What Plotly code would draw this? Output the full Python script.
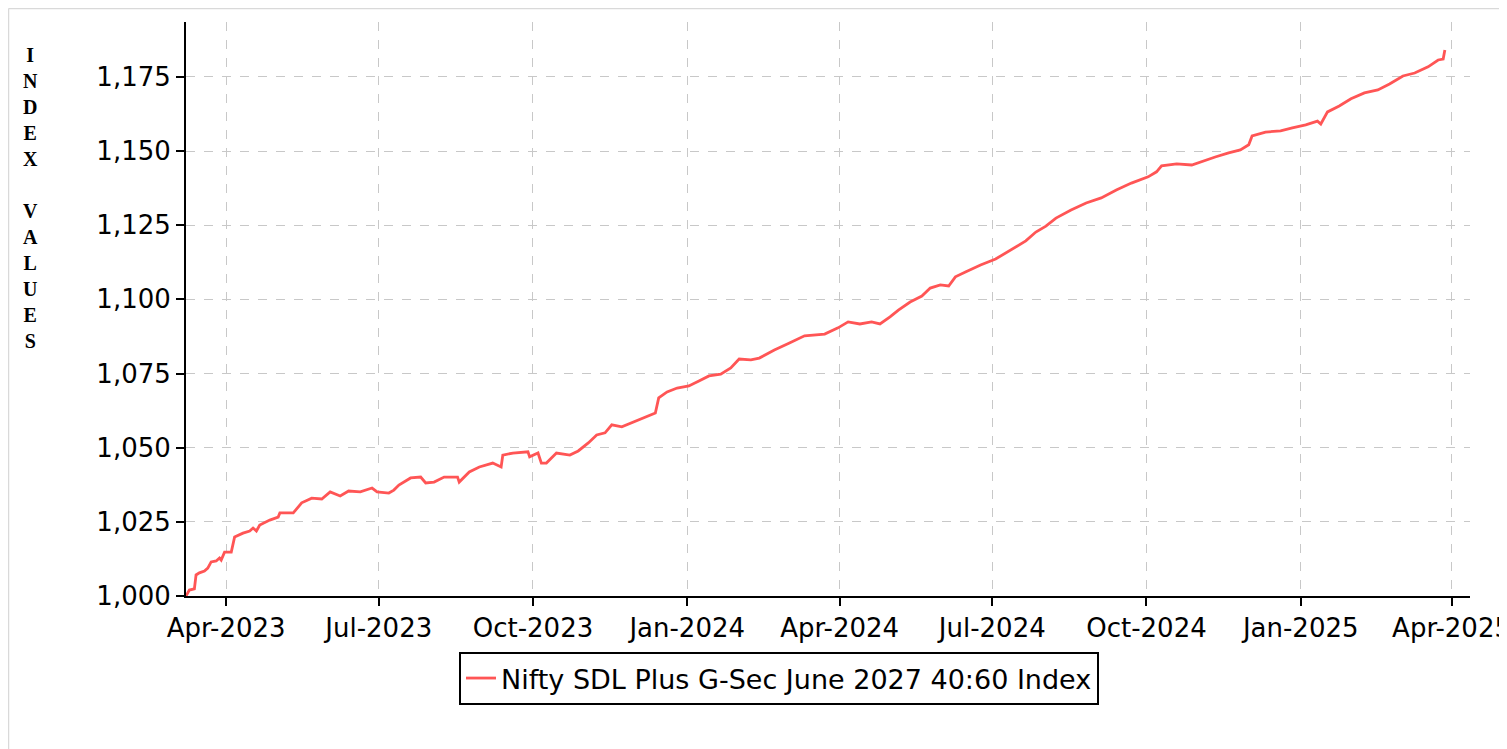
import plotly.graph_objects as go

series_name = "Nifty SDL Plus G-Sec June 2027 40:60 Index"

dates = [
    "2023-03-08", "2023-03-10", "2023-03-13", "2023-03-14", "2023-03-16", "2023-03-19",
    "2023-03-21", "2023-03-23", "2023-03-26", "2023-03-28", "2023-03-29", "2023-03-31",
    "2023-04-04", "2023-04-06", "2023-04-11", "2023-04-15", "2023-04-17", "2023-04-19",
    "2023-04-21", "2023-04-27", "2023-05-02", "2023-05-03", "2023-05-11", "2023-05-16",
    "2023-05-22", "2023-05-28", "2023-06-02", "2023-06-08", "2023-06-13", "2023-06-20",
    "2023-06-27", "2023-06-30", "2023-07-07", "2023-07-10", "2023-07-13", "2023-07-20",
    "2023-07-26", "2023-07-29", "2023-08-03", "2023-08-09", "2023-08-17", "2023-08-18",
    "2023-08-24", "2023-08-30", "2023-09-07", "2023-09-12", "2023-09-13", "2023-09-19",
    "2023-09-28", "2023-09-29", "2023-10-04", "2023-10-06", "2023-10-09", "2023-10-15",
    "2023-10-23", "2023-10-28", "2023-11-03", "2023-11-08", "2023-11-13", "2023-11-17",
    "2023-11-23", "2023-11-26", "2023-12-03", "2023-12-09", "2023-12-13", "2023-12-15",
    "2023-12-20", "2023-12-26", "2024-01-02", "2024-01-08", "2024-01-14", "2024-01-21",
    "2024-01-27", "2024-02-01", "2024-02-08", "2024-02-13", "2024-02-22", "2024-03-02",
    "2024-03-11", "2024-03-23", "2024-03-31", "2024-04-06", "2024-04-13", "2024-04-20",
    "2024-04-25", "2024-05-01", "2024-05-06", "2024-05-13", "2024-05-20", "2024-05-25",
    "2024-05-31", "2024-06-05", "2024-06-09", "2024-06-15", "2024-06-24", "2024-07-03",
    "2024-07-12", "2024-07-21", "2024-07-27", "2024-08-02", "2024-08-08", "2024-08-17",
    "2024-08-26", "2024-09-04", "2024-09-13", "2024-09-22", "2024-10-02", "2024-10-07",
    "2024-10-10", "2024-10-19", "2024-10-28", "2024-11-02", "2024-11-11", "2024-11-19",
    "2024-11-26", "2024-12-01", "2024-12-03", "2024-12-11", "2024-12-20", "2024-12-27",
    "2025-01-04", "2025-01-11", "2025-01-13", "2025-01-17", "2025-01-24", "2025-01-31",
    "2025-02-08", "2025-02-16", "2025-02-23", "2025-03-03", "2025-03-10", "2025-03-18",
    "2025-03-24", "2025-03-27", "2025-03-28",
]

values = [
    1000.0, 1002.0, 1002.4, 1007.1, 1007.8, 1008.4,
    1009.4, 1011.5, 1011.8, 1012.8, 1012.1, 1014.8,
    1014.8, 1019.9, 1021.2, 1021.9, 1022.9, 1021.9,
    1023.9, 1025.6, 1026.6, 1028.0, 1028.0, 1031.4,
    1033.0, 1032.7, 1035.1, 1033.7, 1035.4, 1035.1,
    1036.4, 1035.1, 1034.7, 1035.7, 1037.4, 1039.8,
    1040.1, 1038.1, 1038.4, 1040.1, 1040.1, 1038.4,
    1041.8, 1043.5, 1044.8, 1043.5, 1047.5, 1048.2,
    1048.6, 1046.9, 1048.2, 1044.8, 1044.8, 1048.2,
    1047.5, 1048.9, 1051.6, 1054.3, 1055.0, 1057.7,
    1057.0, 1057.7, 1059.3, 1060.7, 1061.7, 1066.8,
    1068.8, 1070.1, 1070.8, 1072.5, 1074.2, 1074.8,
    1076.9, 1079.9, 1079.6, 1080.2, 1082.9, 1085.3,
    1087.7, 1088.3, 1090.4, 1092.4, 1091.7, 1092.4,
    1091.7, 1094.1, 1096.4, 1099.1, 1101.1, 1103.8,
    1104.9, 1104.5, 1107.6, 1109.2, 1111.6, 1113.6,
    1116.7, 1119.7, 1122.7, 1124.7, 1127.4, 1130.1,
    1132.5, 1134.2, 1136.9, 1139.2, 1141.3, 1143.0,
    1145.0, 1145.7, 1145.3, 1146.3, 1148.0, 1149.4,
    1150.4, 1152.1, 1155.1, 1156.4, 1156.8, 1157.8,
    1158.8, 1160.1, 1159.1, 1163.2, 1165.2, 1167.6,
    1169.6, 1170.6, 1172.6, 1175.3, 1176.3, 1178.4,
    1180.7, 1181.0, 1184.1,
]

x_tick_vals = ["2023-04-01", "2023-07-01", "2023-10-01", "2024-01-01", "2024-04-01",
               "2024-07-01", "2024-10-01", "2025-01-01", "2025-04-01"]
x_tick_text = ["Apr-2023", "Jul-2023", "Oct-2023", "Jan-2024", "Apr-2024",
               "Jul-2024", "Oct-2024", "Jan-2025", "Apr-2025"]
y_tick_vals = [1000, 1025, 1050, 1075, 1100, 1125, 1150, 1175]
y_tick_text = ["1,000", "1,025", "1,050", "1,075", "1,100", "1,125", "1,150", "1,175"]
y_title_letters = ["I", "N", "D", "E", "X", "", "V", "A", "L", "U", "E", "S"]

# figure geometry (figure pixels; page body adds an 8px offset)
W, H = 1499, 741
L, R, T, B = 178, 37, 14, 153
PW, PH = W - L - R, H - T - B


def px(fx):
    return (fx - L) / PW


def py(fy):
    return (H - B - fy) / PH


fig = go.Figure()
fig.add_trace(go.Scatter(
    x=dates, y=values, mode="lines", name=series_name,
    line=dict(color="#ff5555", width=2.8),
    showlegend=True,
))

font_main = "DejaVu Sans, Verdana, sans-serif"

fig.update_layout(
    width=W, height=H,
    margin=dict(l=L, r=R, t=T, b=B, autoexpand=False),
    paper_bgcolor="white", plot_bgcolor="white",
    font=dict(family=font_main, size=26, color="black"),
    showlegend=True,
    legend=dict(
        orientation="h", x=px(771), xanchor="center", y=py(644), yanchor="top",
        bordercolor="black", borderwidth=2, bgcolor="white",
        itemwidth=30,
        font=dict(family=font_main, size=27, color="black"),
    ),
    xaxis=dict(
        type="date", range=["2023-03-08", "2025-04-12"],
        tickmode="array", tickvals=x_tick_vals, ticktext=x_tick_text,
        ticks="outside", ticklen=8, tickwidth=2, tickcolor="black",
        ticklabeloverflow="allow", automargin=False,
        showline=True, linecolor="black", linewidth=2,
        showgrid=True, gridcolor="#c8c8c8", griddash="dash", gridwidth=1,
        zeroline=False,
        tickfont=dict(family=font_main, size=26, color="black"),
    ),
    yaxis=dict(
        range=[1000, 1193.5], automargin=False,
        tickmode="array", tickvals=y_tick_vals, ticktext=y_tick_text,
        ticks="outside", ticklen=8, tickwidth=2, tickcolor="black",
        showline=True, linecolor="black", linewidth=2,
        showgrid=True, gridcolor="#c8c8c8", griddash="dash", gridwidth=1,
        zeroline=False,
        tickfont=dict(family=font_main, size=26, color="black"),
    ),
    annotations=[dict(
        text="<b>" + "<br>".join(y_title_letters) + "</b>",
        xref="paper", yref="paper",
        x=px(22), y=py(190),
        xanchor="center", yanchor="middle", showarrow=False, align="center",
        font=dict(family="Liberation Serif, Times New Roman, serif", size=20, color="black"),
    )],
    shapes=[
        dict(type="line", xref="paper", yref="paper",
             x0=px(0.5), x1=px(1495), y0=py(0.5), y1=py(0.5),
             line=dict(color="#d9d9d9", width=1.5)),
        dict(type="line", xref="paper", yref="paper",
             x0=px(0.5), x1=px(0.5), y0=py(0.5), y1=py(H),
             line=dict(color="#d9d9d9", width=1.5)),
        dict(type="line", xref="paper", yref="paper",
             x0=px(1495), x1=px(1495), y0=py(0.5), y1=py(H),
             line=dict(color="#d9d9d9", width=1.5)),
    ],
)

fig.write_html("out.html")
